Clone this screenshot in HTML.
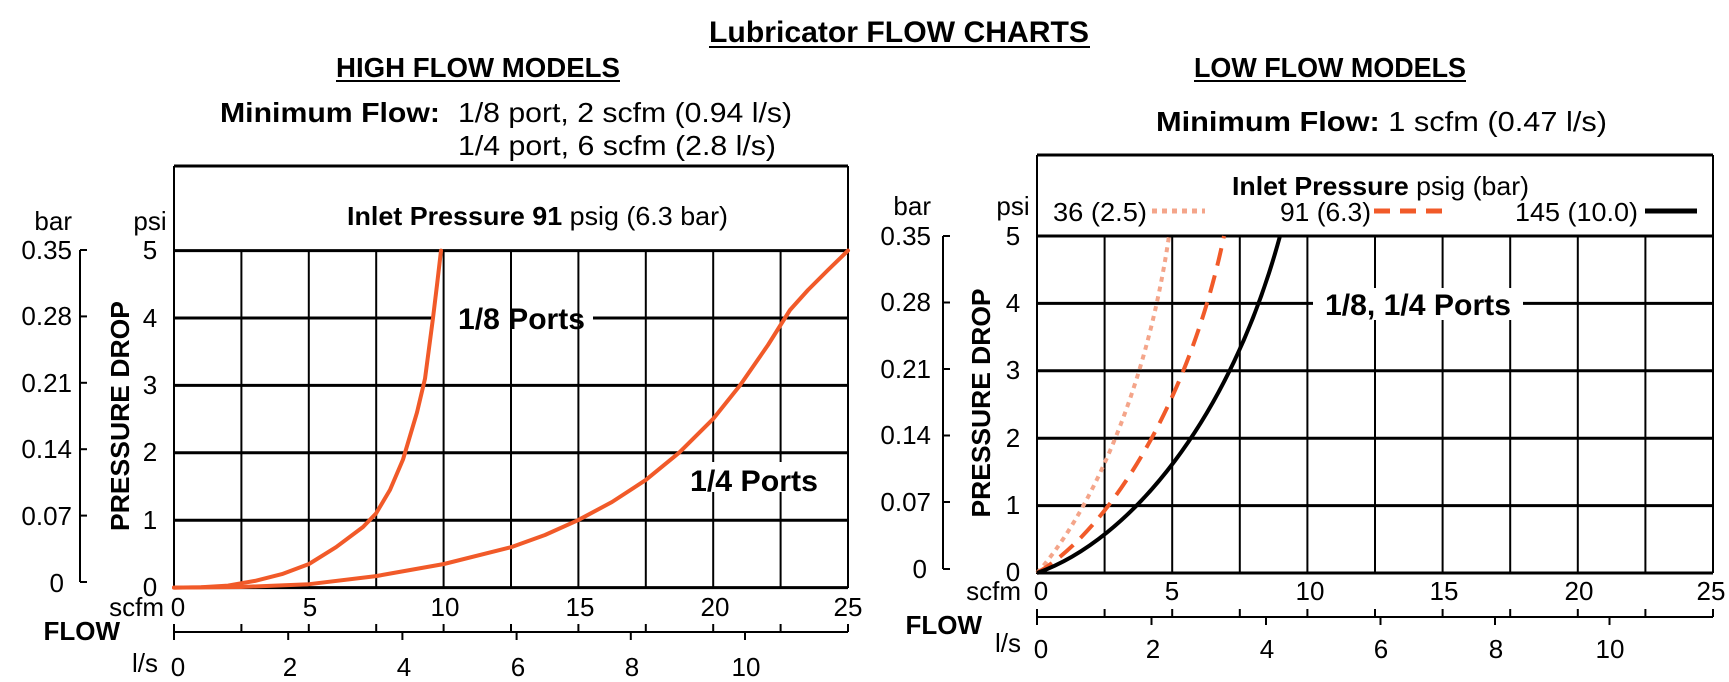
<!DOCTYPE html><html><head><style>body{margin:0;background:#fff}svg{display:block}text{font-family:"Liberation Sans",Arial,sans-serif;fill:#000}</style></head><body>
<svg width="1729" height="682" viewBox="0 0 1729 682">
<g font-weight="bold">
<text x="709" y="42" font-size="30" textLength="380" lengthAdjust="spacingAndGlyphs">Lubricator FLOW CHARTS</text>
<line x1="709" y1="47" x2="1090" y2="47" stroke="#000" stroke-width="2"/>
<text x="336" y="77" font-size="28" textLength="284" lengthAdjust="spacingAndGlyphs">HIGH  FLOW MODELS</text>
<line x1="336" y1="81" x2="620" y2="81" stroke="#000" stroke-width="2"/>
<text x="1194" y="77" font-size="28" textLength="272" lengthAdjust="spacingAndGlyphs">LOW FLOW MODELS</text>
<line x1="1194" y1="81" x2="1466" y2="81" stroke="#000" stroke-width="2"/>
</g>
<g font-size="28">
<text x="220" y="122" font-weight="bold" textLength="220" lengthAdjust="spacingAndGlyphs">Minimum Flow:</text>
<text x="458" y="122" textLength="334" lengthAdjust="spacingAndGlyphs">1/8 port, 2 scfm (0.94 l/s)</text>
<text x="458" y="155" textLength="318" lengthAdjust="spacingAndGlyphs">1/4 port, 6 scfm (2.8 l/s)</text>
<text x="1156" y="131" textLength="451" lengthAdjust="spacingAndGlyphs"><tspan font-weight="bold">Minimum Flow:</tspan>  1 scfm (0.47 l/s)</text>
</g>
<!-- LEFT CHART -->
<g stroke="#000" fill="none">
<line x1="174" y1="166" x2="848" y2="166" stroke-width="3"/>
<line x1="174" y1="166" x2="174" y2="589" stroke-width="2"/>
<g stroke-width="3">
<line x1="174" y1="250.6" x2="848" y2="250.6"/><line x1="174" y1="318" x2="432" y2="318"/><line x1="593" y1="318" x2="848" y2="318"/>
<line x1="174" y1="385.4" x2="848" y2="385.4"/><line x1="174" y1="452.8" x2="848" y2="452.8"/>
<line x1="174" y1="520.2" x2="848" y2="520.2"/><line x1="174" y1="587.6" x2="848" y2="587.6"/>
</g>
<g stroke-width="2">
<line x1="241.4" y1="250" x2="241.4" y2="588"/><line x1="308.8" y1="250" x2="308.8" y2="588"/><line x1="376.2" y1="250" x2="376.2" y2="588"/>
<line x1="443.6" y1="250" x2="443.6" y2="588"/><line x1="511" y1="250" x2="511" y2="588"/><line x1="578.4" y1="250" x2="578.4" y2="588"/>
<line x1="645.8" y1="250" x2="645.8" y2="588"/><line x1="713.2" y1="250" x2="713.2" y2="462"/><line x1="713.2" y1="492" x2="713.2" y2="588"/>
<line x1="780.6" y1="250" x2="780.6" y2="462"/><line x1="780.6" y1="492" x2="780.6" y2="588"/><line x1="848" y1="166" x2="848" y2="588"/>
<line x1="80" y1="250" x2="80" y2="582"/>
<line x1="80" y1="250" x2="87" y2="250"/><line x1="80" y1="316.4" x2="87" y2="316.4"/><line x1="80" y1="382.8" x2="87" y2="382.8"/><line x1="80" y1="449.2" x2="87" y2="449.2"/><line x1="80" y1="515.6" x2="87" y2="515.6"/><line x1="80" y1="582" x2="87" y2="582"/>
<line x1="174" y1="632" x2="848" y2="632"/>
<line x1="174" y1="624" x2="174" y2="640"/><line x1="241.4" y1="624" x2="241.4" y2="632"/><line x1="308.8" y1="624" x2="308.8" y2="632"/><line x1="376.2" y1="624" x2="376.2" y2="632"/><line x1="443.6" y1="624" x2="443.6" y2="632"/><line x1="511" y1="624" x2="511" y2="632"/><line x1="578.4" y1="624" x2="578.4" y2="632"/><line x1="645.8" y1="624" x2="645.8" y2="632"/><line x1="713.2" y1="624" x2="713.2" y2="632"/><line x1="780.6" y1="624" x2="780.6" y2="632"/><line x1="848" y1="624" x2="848" y2="632"/>
<line x1="288.2" y1="632" x2="288.2" y2="640"/><line x1="402.4" y1="632" x2="402.4" y2="640"/><line x1="516.6" y1="632" x2="516.6" y2="640"/><line x1="630.8" y1="632" x2="630.8" y2="640"/><line x1="745" y1="632" x2="745" y2="640"/>
</g>
<g stroke="#f15a29" stroke-width="4" stroke-linejoin="round" stroke-linecap="round">
<polyline points="174,587.6 201,587.3 228,585.6 255,580.9 282,574.1 309,564 336,547.2 363,527 376,513.5 390,489.9 403,459.5 417,412.4 425,378.7 433,318 437,285 441,250.6"/>
<polyline points="174,587.6 241,587 309,584.2 376,576.1 444,564 511,547.2 545,535 578,520.2 612,502 646,479.8 679,452.8 713,419.1 740,385.4 768,345 790,310 808,290 828,270 848,250.6"/>
</g>
</g>
<g font-size="26">
<text x="72" y="230" text-anchor="end">bar</text><text x="150" y="230" text-anchor="middle">psi</text>
<g text-anchor="end"><text x="72" y="259">0.35</text><text x="72" y="325">0.28</text><text x="72" y="392">0.21</text><text x="72" y="458">0.14</text><text x="72" y="525">0.07</text><text x="64" y="592">0</text></g>
<g text-anchor="middle"><text x="150" y="259">5</text><text x="150" y="327">4</text><text x="150" y="394">3</text><text x="150" y="461">2</text><text x="150" y="529">1</text><text x="150" y="596">0</text>
<text x="178" y="616">0</text><text x="310" y="616">5</text><text x="445" y="616">10</text><text x="580" y="616">15</text><text x="715" y="616">20</text><text x="848" y="616">25</text>
<text x="178" y="676">0</text><text x="290" y="676">2</text><text x="404" y="676">4</text><text x="518" y="676">6</text><text x="632" y="676">8</text><text x="746" y="676">10</text></g>
<text x="164" y="616" text-anchor="end">scfm</text><text x="158" y="672" text-anchor="end">l/s</text>
<text x="120" y="640" text-anchor="end" font-weight="bold">FLOW</text>
<text transform="translate(129,416) rotate(-90)" text-anchor="middle" font-weight="bold" textLength="230" lengthAdjust="spacingAndGlyphs">PRESSURE DROP</text>
<text x="347" y="225" textLength="381" lengthAdjust="spacingAndGlyphs"><tspan font-weight="bold">Inlet Pressure 91</tspan> psig (6.3 bar)</text>
<text x="458" y="329" font-size="30" font-weight="bold" textLength="127" lengthAdjust="spacingAndGlyphs">1/8 Ports</text>
<text x="690" y="491" font-size="30" font-weight="bold" textLength="128" lengthAdjust="spacingAndGlyphs">1/4 Ports</text>
</g>
<!-- RIGHT CHART -->
<g stroke="#000" fill="none">
<line x1="1037" y1="155" x2="1713" y2="155" stroke-width="3"/>
<line x1="1037" y1="155" x2="1037" y2="574" stroke-width="2"/>
<g stroke-width="3">
<line x1="1037" y1="236" x2="1713" y2="236"/><line x1="1037" y1="303.4" x2="1313" y2="303.4"/><line x1="1523" y1="303.4" x2="1713" y2="303.4"/>
<line x1="1037" y1="370.8" x2="1713" y2="370.8"/><line x1="1037" y1="438.2" x2="1713" y2="438.2"/>
<line x1="1037" y1="505.6" x2="1713" y2="505.6"/><line x1="1037" y1="573" x2="1713" y2="573"/>
</g>
<g stroke-width="2">
<line x1="1104.6" y1="236" x2="1104.6" y2="573"/><line x1="1172.2" y1="236" x2="1172.2" y2="573"/><line x1="1239.8" y1="236" x2="1239.8" y2="573"/>
<line x1="1307.4" y1="236" x2="1307.4" y2="573"/><line x1="1375" y1="236" x2="1375" y2="288"/><line x1="1375" y1="320" x2="1375" y2="573"/><line x1="1442.6" y1="236" x2="1442.6" y2="288"/><line x1="1442.6" y1="320" x2="1442.6" y2="573"/>
<line x1="1510.2" y1="236" x2="1510.2" y2="288"/><line x1="1510.2" y1="320" x2="1510.2" y2="573"/><line x1="1577.8" y1="236" x2="1577.8" y2="573"/><line x1="1645.4" y1="236" x2="1645.4" y2="573"/><line x1="1713" y1="155" x2="1713" y2="573"/>
<line x1="943" y1="236" x2="943" y2="569"/>
<line x1="943" y1="236" x2="950" y2="236"/><line x1="943" y1="302.5" x2="950" y2="302.5"/><line x1="943" y1="369" x2="950" y2="369"/><line x1="943" y1="435.5" x2="950" y2="435.5"/><line x1="943" y1="502" x2="950" y2="502"/><line x1="943" y1="569" x2="950" y2="569"/>
<line x1="1037" y1="617" x2="1713" y2="617"/>
<line x1="1037" y1="609" x2="1037" y2="625"/><line x1="1104.6" y1="609" x2="1104.6" y2="617"/><line x1="1172.2" y1="609" x2="1172.2" y2="617"/><line x1="1239.8" y1="609" x2="1239.8" y2="617"/><line x1="1307.4" y1="609" x2="1307.4" y2="617"/><line x1="1375" y1="609" x2="1375" y2="617"/><line x1="1442.6" y1="609" x2="1442.6" y2="617"/><line x1="1510.2" y1="609" x2="1510.2" y2="617"/><line x1="1577.8" y1="609" x2="1577.8" y2="617"/><line x1="1645.4" y1="609" x2="1645.4" y2="617"/><line x1="1713" y1="609" x2="1713" y2="617"/>
<line x1="1151.5" y1="617" x2="1151.5" y2="625"/><line x1="1266" y1="617" x2="1266" y2="625"/><line x1="1380.5" y1="617" x2="1380.5" y2="625"/><line x1="1495" y1="617" x2="1495" y2="625"/><line x1="1609.5" y1="617" x2="1609.5" y2="625"/>
</g>
<g stroke-width="4">
<path d="M1037,573 C1085,520 1145,400 1169,236" stroke="#f4a58a" stroke-dasharray="5,5"/>
<path d="M1037,573 C1110,530 1190,400 1224,236" stroke="#f15a29" stroke-dasharray="18,10"/>
<path d="M1037,573 C1130,540 1230,420 1280,236" stroke="#000"/>
</g>
<line x1="1152" y1="211" x2="1205" y2="211" stroke="#f4a58a" stroke-width="5" stroke-dasharray="5,5"/>
<line x1="1374" y1="211" x2="1446" y2="211" stroke="#f15a29" stroke-width="5" stroke-dasharray="16,10"/>
<line x1="1645" y1="211" x2="1697" y2="211" stroke="#000" stroke-width="5"/>
</g>
<g font-size="26">
<text x="931" y="215" text-anchor="end">bar</text><text x="1013" y="215" text-anchor="middle">psi</text>
<g text-anchor="end"><text x="931" y="245">0.35</text><text x="931" y="311">0.28</text><text x="931" y="378">0.21</text><text x="931" y="444">0.14</text><text x="931" y="511">0.07</text><text x="927" y="578">0</text></g>
<g text-anchor="middle"><text x="1013" y="245">5</text><text x="1013" y="312">4</text><text x="1013" y="379">3</text><text x="1013" y="447">2</text><text x="1013" y="514">1</text><text x="1013" y="581">0</text>
<text x="1041" y="600">0</text><text x="1172" y="600">5</text><text x="1310" y="600">10</text><text x="1444" y="600">15</text><text x="1579" y="600">20</text><text x="1711" y="600">25</text>
<text x="1041" y="658">0</text><text x="1153" y="658">2</text><text x="1267" y="658">4</text><text x="1381" y="658">6</text><text x="1496" y="658">8</text><text x="1610" y="658">10</text></g>
<text x="1021" y="600" text-anchor="end">scfm</text><text x="1021" y="652" text-anchor="end">l/s</text>
<text x="982" y="634" text-anchor="end" font-weight="bold">FLOW</text>
<text transform="translate(990,403) rotate(-90)" text-anchor="middle" font-weight="bold" textLength="229" lengthAdjust="spacingAndGlyphs">PRESSURE DROP</text>
<text x="1232" y="195" textLength="297" lengthAdjust="spacingAndGlyphs"><tspan font-weight="bold">Inlet Pressure</tspan> psig (bar)</text>
<text x="1053" y="221" textLength="94" lengthAdjust="spacingAndGlyphs">36 (2.5)</text>
<text x="1280" y="221" textLength="91" lengthAdjust="spacingAndGlyphs">91 (6.3)</text>
<text x="1515" y="221" textLength="123" lengthAdjust="spacingAndGlyphs">145 (10.0)</text>
<text x="1325" y="315" font-size="30" font-weight="bold" textLength="186" lengthAdjust="spacingAndGlyphs">1/8, 1/4 Ports</text>
</g>
</svg>
</body></html>
